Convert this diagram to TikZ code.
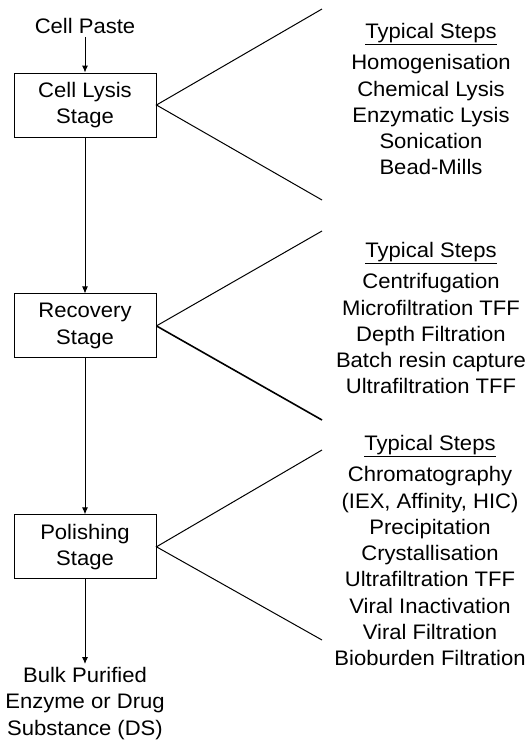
\documentclass[tikz,border=0pt]{standalone}
\usepackage{fontspec}
\setmainfont{Liberation Sans}[FakeStretch=1.05]
\usetikzlibrary{positioning,arrows.meta}

\tikzset{
  stagebox/.style={draw, line width=0.9pt, minimum width=142pt, minimum height=64pt, align=center, inner sep=0pt},
  steplist/.style={align=center, anchor=north, inner sep=0pt},
  flow/.style={line width=0.9pt, -{Latex[length=7pt,width=6pt]}},
  fan/.style={line width=1pt}
}

\begin{document}
\begin{tikzpicture}[x=1pt,y=-1pt,font=\fontsize{21}{26.3}\selectfont]
  \useasboundingbox (0,0) rectangle (528,740);

  \node[inner sep=3pt] (paste) at (85,26) {Cell Paste};
  \node[stagebox] (lysis) at (85,105) {Cell Lysis\\Stage};
  \node[stagebox, below=156pt of lysis] (recovery) {Recovery\\Stage};
  \node[stagebox, below=156pt of recovery] (polishing) {Polishing\\Stage};
  \node[align=center, anchor=north, inner sep=3pt] (bulk) at (85,664) {Bulk Purified\\Enzyme or Drug\\Substance (DS)};

  \draw[flow] (paste) -- (lysis);
  \draw[flow] (lysis) -- (recovery);
  \draw[flow] (recovery) -- (polishing);
  \draw[flow] (polishing) -- (bulk);

  % fan out to the lists of steps
  \coordinate (lysisA) at (322,9);
  \coordinate (lysisB) at (322,200);
  \coordinate (recovA) at (322,231);
  \coordinate (recovB) at (322,420);
  \coordinate (polA) at (322,450);
  \coordinate (polB) at (322,640);
  \draw[fan] (lysisA) -- (lysis.east) -- (lysisB);
  \draw[fan] (recovA) -- (recovery.east);
  \draw[fan, line width=1.6pt] (recovery.east) -- (recovB);
  \draw[fan] (polA) -- (polishing.east) -- (polB);

  \node[steplist] (lysissteps) at (431,23) {\underline{Typical Steps}\\[5pt]
    Homogenisation\\Chemical Lysis\\Enzymatic Lysis\\Sonication\\Bead-Mills};
  \node[steplist] (recovsteps) at (431,242) {\underline{Typical Steps}\\[5pt]
    Centrifugation\\Microfiltration TFF\\Depth Filtration\\Batch resin capture\\Ultrafiltration TFF};
  \node[steplist] (polsteps) at (430,435) {\underline{Typical Steps}\\[5pt]
    Chromatography\\(IEX, Affinity, HIC)\\Precipitation\\Crystallisation\\Ultrafiltration TFF\\Viral Inactivation\\Viral Filtration\\Bioburden Filtration};

  %\draw[thick, gray] (0,0) rectangle (528,740);
\end{tikzpicture}
\end{document}
